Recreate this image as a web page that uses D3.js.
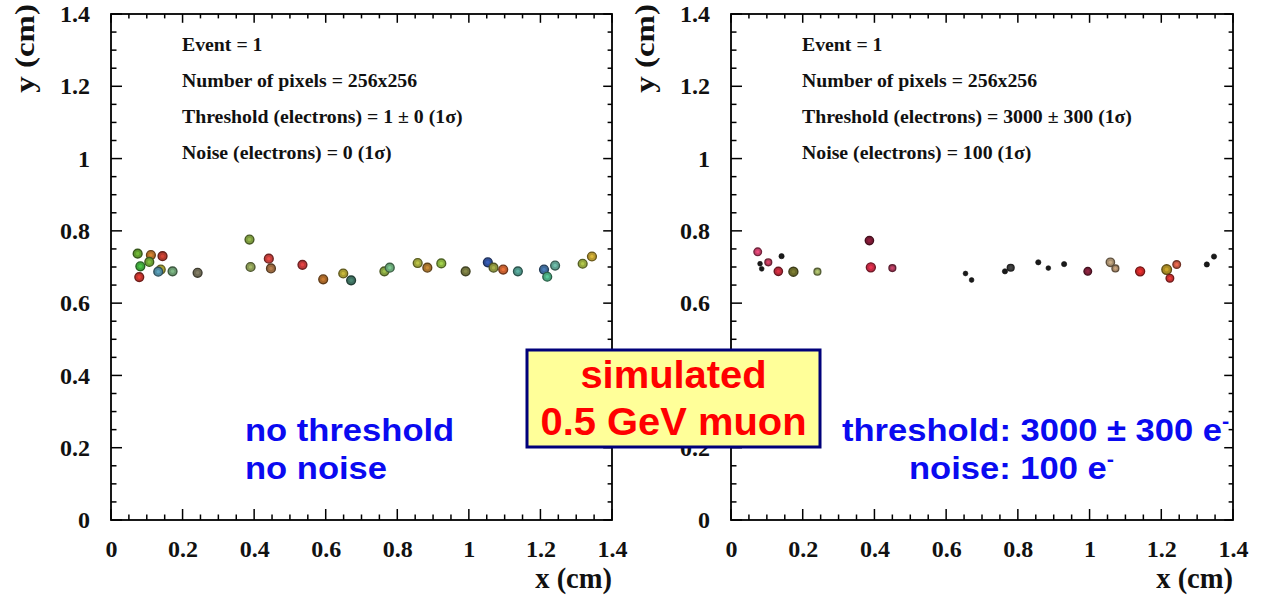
<!DOCTYPE html>
<html><head><meta charset="utf-8">
<script src="https://cdn.jsdelivr.net/npm/d3@7"></script>
<style>body{margin:0;background:#fff;} svg{display:block;}</style>
</head><body><svg id="c" width="1263" height="596"></svg>
<script>
// ---------- data ----------
const xTickValues = [0, 0.2, 0.4, 0.6, 0.8, 1, 1.2, 1.4];
const yTickValues = [0, 0.2, 0.4, 0.6, 0.8, 1, 1.2, 1.4];
const xTitle = "x (cm)";
const yTitle = "y (cm)";

// left panel: no threshold, no noise
const leftX = [0.0745,0.1115,0.144,0.107,0.082,0.079,0.139,0.132,0.172,0.242,0.387,0.390,0.441,0.447,0.535,0.593,0.649,0.671,0.764,0.779,0.857,0.884,0.923,0.991,1.053,1.069,1.096,1.137,1.210,1.219,1.241,1.318,1.344];
const leftY = [0.737,0.733,0.730,0.714,0.702,0.672,0.693,0.687,0.688,0.684,0.776,0.700,0.723,0.696,0.706,0.666,0.682,0.663,0.688,0.698,0.711,0.698,0.710,0.688,0.713,0.698,0.693,0.688,0.693,0.673,0.704,0.709,0.729];
const leftColors = ["#5f9a2e","#b5702a","#b23a2e","#6aa035","#3fa63c","#c2352e","#a6a032","#4f8aa0","#6a9a70","#6e6a55","#7e9c40","#8a9a55","#c4403c","#9a6a40","#c0383a","#a8682a","#a89c32","#3e7060","#84a040","#6aa878","#9ea43c","#a8742e","#88b040","#72743e","#2f4f9a","#8c9440","#c66030","#4e9488","#3e6a9a","#4aa880","#5ea090","#96a840","#b89a30"];

// right panel: threshold 3000 ± 300 e-, noise 100 e-
const rightX = [0.0745,0.081,0.0856,0.104,0.141,0.132,0.174,0.241,0.386,0.390,0.450,0.654,0.671,0.764,0.780,0.857,0.885,0.929,0.995,1.058,1.072,1.141,1.215,1.224,1.243,1.327,1.347];
const rightY = [0.742,0.709,0.695,0.713,0.730,0.688,0.687,0.687,0.773,0.699,0.697,0.682,0.664,0.688,0.698,0.713,0.697,0.708,0.688,0.713,0.696,0.688,0.693,0.669,0.707,0.707,0.729];
const rightCharge = [2.5,1,1,2,1.2,3,3.5,2,3,3.5,2,1,1,1.2,2,1.2,1,1.2,2.5,3,2,3.5,4,2.5,2.5,1.2,1.2];
const rightColors = ["#c8406a","#1a1a1a","#1a1a1a","#b83a5a","#1a1a1a","#b82a3a","#6a6a2a","#98a860","#7a1a34","#c42a44","#a83a5a","#1a1a1a","#1a1a1a","#1a1a1a","#3a3a3a","#1a1a1a","#1a1a1a","#1a1a1a","#7a2038","#a89070","#a88a6a","#c82828","#a88a24","#c83030","#c85a44","#1a1a1a","#1a1a1a"];

const leftInfo = ["Event = 1", "Number of pixels = 256x256", "Threshold (electrons) = 1 \u00b1 0 (1\u03c3)", "Noise (electrons) = 0 (1\u03c3)"];
const rightInfo = ["Event = 1", "Number of pixels = 256x256", "Threshold (electrons) = 3000 \u00b1 300 (1\u03c3)", "Noise (electrons) = 100 (1\u03c3)"];
const leftNote = ["no threshold", "no noise"];
const rightNote = ["threshold: 3000 \u00b1 300 e", "noise: 100 e"];
const boxLines = ["simulated", "0.5 GeV muon"];

// ---------- drawing ----------
const svg = d3.select("#c");
const SERIF = "'Liberation Serif','Times New Roman',serif";
const SANS = "'Liberation Sans',Arial,sans-serif";
const plotTop = 14, plotBottom = 520;

function panel(x0, x1, xs, ys, colors, radii, info) {
  const g = svg.append("g");
  const x = d3.scaleLinear().domain([0, 1.4]).range([x0, x1]);
  const y = d3.scaleLinear().domain([0, 1.4]).range([plotBottom, plotTop]);

  // ticks (inward on all four sides)
  const minor = d3.range(0, 1.4001, 0.05);
  const isMajor = t => Math.abs(t / 0.2 - Math.round(t / 0.2)) < 1e-6;
  const tk = g.append("g").attr("stroke", "#000").attr("stroke-width", 1.5);
  minor.forEach(t => {
    const L = isMajor(t) ? 11 : 5.5;
    tk.append("line").attr("x1", x(t)).attr("x2", x(t)).attr("y1", plotBottom).attr("y2", plotBottom - L);
    tk.append("line").attr("x1", x(t)).attr("x2", x(t)).attr("y1", plotTop).attr("y2", plotTop + L * 0.8);
    tk.append("line").attr("y1", y(t)).attr("y2", y(t)).attr("x1", x0).attr("x2", x0 + L);
    tk.append("line").attr("y1", y(t)).attr("y2", y(t)).attr("x1", x1).attr("x2", x1 - L * 0.8);
  });
  g.append("rect").attr("x", x0).attr("y", plotTop).attr("width", x1 - x0).attr("height", plotBottom - plotTop)
    .attr("fill", "none").attr("stroke", "#000").attr("stroke-width", 1.8);

  // tick labels via d3 axes
  const fmt = d3.format("~g");
  const ax = g.append("g").attr("transform", `translate(0,${plotBottom})`)
    .call(d3.axisBottom(x).tickValues(xTickValues).tickSize(0).tickPadding(20).tickFormat(fmt));
  const ay = g.append("g").attr("transform", `translate(${x0},0)`)
    .call(d3.axisLeft(y).tickValues(yTickValues).tickSize(0).tickPadding(21).tickFormat(fmt));
  [ax, ay].forEach(a => {
    a.select(".domain").remove();
    a.selectAll("text").attr("font-family", SERIF).attr("font-weight", "bold").attr("font-size", 24).attr("fill", "#111");
  });

  // axis titles
  g.append("text").attr("x", x1).attr("y", 588).attr("text-anchor", "end")
    .attr("font-family", SERIF).attr("font-weight", "bold").attr("font-size", 28.5).attr("fill", "#111").text(xTitle);
  g.append("text").attr("transform", `translate(${x0 - 77},4) rotate(-90) scale(1.22,1)`).attr("text-anchor", "end")
    .attr("font-family", SERIF).attr("font-weight", "bold").attr("font-size", 27).attr("fill", "#111").text(yTitle);

  // info text
  info.forEach((s, i) => {
    g.append("text").attr("x", x0 + 71).attr("y", 51 + i * 36)
      .attr("font-family", SERIF).attr("font-weight", "bold").attr("font-size", 19.8).attr("fill", "#111").text(s);
  });

  // points
  const pts = g.append("g");
  xs.forEach((xv, i) => {
    const c = colors[i];
    const r = radii[i];
    pts.append("circle").attr("cx", x(xv)).attr("cy", y(ys[i])).attr("r", r)
      .attr("fill", c).attr("stroke", d3.color(c).darker(1.6)).attr("stroke-width", r > 3 ? 1.4 : 0.6);
    if (r > 3) {
      pts.append("circle").attr("cx", x(xv)).attr("cy", y(ys[i])).attr("r", r * 0.4)
        .attr("fill", d3.color(c).brighter(0.7)).attr("opacity", 0.7);
    }
  });
  return g;
}

const rScale = d3.scaleSqrt().domain([0, 4]).range([0, 4.8]);
panel(111, 612, leftX, leftY, leftColors, leftX.map(() => 4.4), leftInfo);
panel(731, 1233, rightX, rightY, rightColors, rightCharge.map(rScale), rightInfo);

// helper: horizontally stretched text
function stext(x, y, s, size, fill, sx, anchor) {
  return svg.append("text").attr("transform", `translate(${x},${y}) scale(${sx},1)`)
    .attr("text-anchor", anchor || "start")
    .attr("font-family", SANS).attr("font-weight", "bold").attr("font-size", size).attr("fill", fill).text(s);
}

// blue notes
const blue = "#0a0af0";
leftNote.forEach((s, i) => stext(245, 441 + i * 38, s, 32, blue, 1.08));
const rn = [{x: 842, y: 441}, {x: 909, y: 479}];
rightNote.forEach((s, i) => {
  const t = stext(rn[i].x, rn[i].y, s, 32, blue, 1.08);
  t.append("tspan").attr("dy", -13).attr("font-size", 20).text("-");
});

// central yellow box
svg.append("rect").attr("x", 527).attr("y", 350).attr("width", 293).attr("height", 97)
  .attr("fill", "#ffff99").attr("stroke", "#00007a").attr("stroke-width", 3);
boxLines.forEach((s, i) => stext(673.5, 388 + i * 47, s, 38, "#ff0000", 1.05, "middle"));
</script>
</body></html>
